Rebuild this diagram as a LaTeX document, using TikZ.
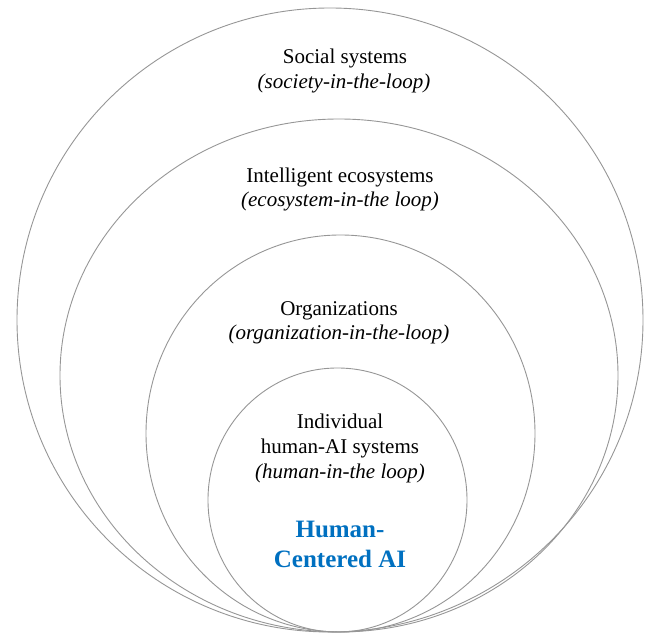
\documentclass[tikz,border=0pt]{standalone}
\usepackage{fontspec}
\setmainfont{Liberation Serif}
\usepackage{tikz}
\usetikzlibrary{positioning}
\definecolor{ringgray}{RGB}{150,150,150}
\definecolor{hcablue}{RGB}{0,112,192}

\begin{document}
\begin{tikzpicture}[x = 1pt, y = 1pt,
  ring/.style = {draw = ringgray, line width = 0.9pt},
  lbl/.style = {anchor = base, inner sep = 0pt, font = \fontsize{21}{25}\selectfont},
  core/.style = {anchor = base, inner sep = 0pt, text = hcablue, font = \fontsize{25}{30}\selectfont\bfseries}]
%\draw [help lines, step = 50] (0, 0) grid (651, 634);
\useasboundingbox (0, 0) rectangle (651, 634);
% rings, all touching at the bottom
\draw [ring] (330, 314) ellipse (313pt and 312pt);
\draw [ring] (339, 258.5) ellipse (279pt and 256.5pt);
\draw [ring] (340.5, 200.5) ellipse (194.5pt and 198.5pt);
\draw [ring] (337.5, 134) ellipse (129.5pt and 132pt);
% outer ring
\node (soc) [lbl] at (345, 570) {Social systems};
\node (socloop) [lbl] at (344, 545) {\itshape (society-in-the-loop)};
% second ring
\node (eco) [lbl] at (340, 451) {Intelligent ecosystems};
\node (ecoloop) [lbl] at (340, 427) {\itshape (ecosystem-in-the loop)};
% third ring
\node (org) [lbl] at (339, 318) {Organizations};
\node (orgloop) [lbl] at (339, 294) {\itshape (organization-in-the-loop)};
% inner ring
\node (ind) [lbl] at (340, 205) {Individual};
\node (indsys) [lbl] at (340, 180) {human-AI systems};
\node (indloop) [lbl] at (340, 155) {\itshape (human-in-the loop)};
\node (hca1) [core] at (340, 96) {Human-};
\node (hca2) [core] at (340, 66) {Centered AI};
\end{tikzpicture}
\end{document}
